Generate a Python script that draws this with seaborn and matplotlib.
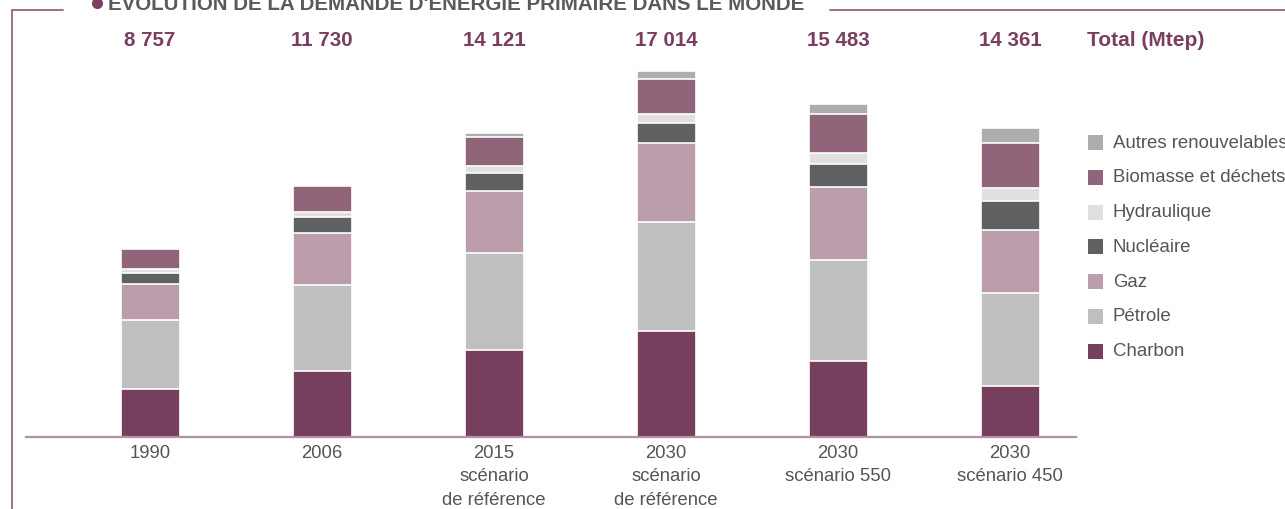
import matplotlib
matplotlib.use("Agg")
import matplotlib.pyplot as plt
from matplotlib.patches import Rectangle
from matplotlib.lines import Line2D
import matplotlib.transforms as mtransforms
import numpy as np
import pandas as pd
import seaborn as sns

# Scenarios (x axis)
categories = [
    "1990",
    "2006",
    "2015\nscénario\nde référence",
    "2030\nscénario\nde référence",
    "2030\nscénario 550",
    "2030\nscénario 450",
]
totals = [8757, 11730, 14121, 17014, 15483, 14361]
total_labels = ["8 757", "11 730", "14 121", "17 014", "15 483", "14 361"]

# Primary energy demand by source (Mtep), stacked bottom to top
charbon = [2221, 3053, 4023, 4908, 3540, 2350]
petrole = [3219, 4029, 4525, 5109, 4680, 4335]
gaz = [1671, 2407, 2903, 3670, 3400, 2940]
nucleaire = [526, 728, 817, 901, 1085, 1360]
hydraulique = [184, 261, 321, 414, 478, 575]
biomasse = [904, 1186, 1375, 1662, 1810, 2120]
autres = [32, 66, 157, 350, 490, 681]

sources = ["Charbon", "Pétrole", "Gaz", "Nucléaire", "Hydraulique",
           "Biomasse et déchets", "Autres renouvelables"]
series = [charbon, petrole, gaz, nucleaire, hydraulique, biomasse, autres]
colors = ["#763f5e", "#bfbfbf", "#bb9dab", "#5f6062", "#e0e0e0",
          "#916579", "#adadad"]

W, H = 1285, 509
sns.set_theme(style="white")
plt.rcParams["font.family"] = ["Liberation Sans", "DejaVu Sans"]

fig = plt.figure(figsize=(W / 100, H / 100), dpi=100)
fig.patch.set_facecolor("white")


def fx(px):
    return px / W


def fy(py):
    return 1 - py / H


# plotting area: baseline at y=437 px, bars centred every 172 px from x=150
ax = fig.add_axes([fx(26), fy(437), fx(1076) - fx(26), fy(60) - fy(437)])
ax.set_facecolor("white")

df = pd.DataFrame({"categorie": categories})
for name, vals in zip(sources, series):
    df[name] = vals

# cumulative heights, drawn tallest first so each layer covers the one below
cum = df[sources].cumsum(axis=1)
cum["categorie"] = categories
for name, col in reversed(list(zip(sources, colors))):
    sns.barplot(data=cum, x="categorie", y=name,
                order=categories, color=col, width=0.343, errorbar=None,
                edgecolor="white", linewidth=1.2, saturation=1, ax=ax)

scale = 366 / 17014
ax.set_xlim(-0.721, -0.721 + 1050 / 172)
ax.set_ylim(0, 377 / scale)
ax.set_xlabel("")
ax.set_ylabel("")
ax.set_yticks([])
for side in ["top", "left", "right"]:
    ax.spines[side].set_visible(False)
ax.spines["bottom"].set_color("#b391a3")
ax.spines["bottom"].set_linewidth(1.6)
ax.set_xticks(range(len(categories)))
ax.set_xticklabels(categories, fontsize=13.3, color="#555555", linespacing=1.5)
ax.tick_params(axis="x", length=0, pad=5.5)

# totals above the bars
trans = mtransforms.blended_transform_factory(ax.transData, fig.transFigure)
for i, lab in enumerate(total_labels):
    ax.text(i, fy(41), lab, transform=trans, ha="center", va="center",
            fontsize=14.8, fontweight="bold", color="#7a3f60")
fig.text(fx(1087), fy(41), "Total (Mtep)", ha="left", va="center",
         fontsize=15, fontweight="bold", color="#7a3f60")

# legend, top entry = top of the stack
leg_y0, leg_dy = 143.3, 34.7
for k, (name, col) in enumerate(reversed(list(zip(sources, colors)))):
    yc = leg_y0 + k * leg_dy
    fig.add_artist(Rectangle((fx(1088), fy(yc + 7)), fx(15), 15 / H,
                             transform=fig.transFigure, facecolor=col,
                             edgecolor="none"))
    fig.text(fx(1113), fy(yc), name, ha="left", va="center",
             fontsize=13.4, color="#555555")

# frame and title
frame_col = "#9c7088"
fig.add_artist(Line2D([fx(12), fx(12)], [fy(10), 0], transform=fig.transFigure,
                      color=frame_col, linewidth=1.4))
fig.add_artist(Line2D([fx(12), fx(63)], [fy(10), fy(10)],
                      transform=fig.transFigure, color=frame_col, linewidth=1.4))
fig.add_artist(Line2D([fx(830), 1], [fy(10), fy(10)],
                      transform=fig.transFigure, color=frame_col, linewidth=1.4))
fig.add_artist(Line2D([fx(97)], [fy(3)], transform=fig.transFigure,
                      marker="o", markersize=8, markerfacecolor="#7a3f60",
                      markeredgecolor="none", linestyle="none"))
fig.text(fx(108), fy(9.5), "ÉVOLUTION DE LA DEMANDE D'ÉNERGIE PRIMAIRE DANS LE MONDE",
         ha="left", va="baseline", fontsize=14.8, fontweight="bold",
         color="#5a5a5a")

fig.savefig("out.png", dpi=100, facecolor="white")
